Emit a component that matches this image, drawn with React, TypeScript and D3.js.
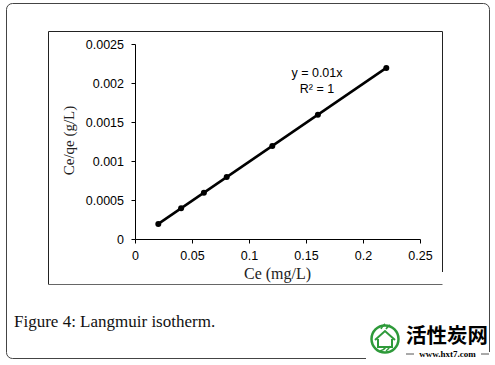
import React from "react";
import * as d3 from "d3";

// data
const ce = [0.02, 0.04, 0.06, 0.08, 0.12, 0.16, 0.22];
const ceQe = [0.0002, 0.0004, 0.0006, 0.0008, 0.0012, 0.0016, 0.0022];
const xTicks = [0, 0.05, 0.1, 0.15, 0.2, 0.25];
const yTicks = [0, 0.0005, 0.001, 0.0015, 0.002, 0.0025];
const slope = 0.01;

const App = () => {
  const x = d3.scaleLinear().domain([0, 0.25]).range([135.5, 420.5]);
  const y = d3.scaleLinear().domain([0, 0.0025]).range([239.5, 44.5]);

  const pts = ce.map((c, i) => ({ c, v: ceQe[i] }));
  const lineX = d3.extent(ce) as [number, number];
  const trend = d3
    .line<number>()
    .x((d) => x(d))
    .y((d) => y(d * slope))(lineX);

  const arial = "'Liberation Sans', Arial, sans-serif";
  const times = "'Liberation Serif', 'Times New Roman', serif";

  return (
    <div style={{ position: "absolute", left: 0, top: 0 }}>
      <svg width={495} height={365} style={{ display: "block", background: "#fff" }}>
        {/* outer frame */}
        <rect x={6.5} y={3.5} width={483} height={355} rx={6} fill="#fff" stroke="#444" strokeWidth={1} />
        {/* chart frame */}
        <path d="M48.5,284.5 L48.5,31.5 L442.5,31.5 L442.5,272" fill="none" stroke="#222" strokeWidth={1} />
        <line x1={48.5} x2={442.5} y1={284.5} y2={284.5} stroke="#666" strokeWidth={1} />

        {/* axes */}
        <line x1={x(0)} x2={x(0)} y1={y(0.0025)} y2={y(0)} stroke="#000" />
        <line x1={x(0)} x2={x(0.25)} y1={y(0)} y2={y(0)} stroke="#000" />
        {yTicks.map((t) => (
          <g key={"y" + t}>
            <line x1={x(0) - 4} x2={x(0)} y1={y(t)} y2={y(t)} stroke="#000" />
            <text x={124} y={y(t) + 4.5} textAnchor="end" fontFamily={arial} fontSize={12.5} fill="#000">
              {String(t)}
            </text>
          </g>
        ))}
        {xTicks.map((t) => (
          <g key={"x" + t}>
            <line x1={x(t)} x2={x(t)} y1={y(0)} y2={y(0) + 4} stroke="#000" />
            <text x={x(t)} y={260} textAnchor="middle" fontFamily={arial} fontSize={12.5} fill="#000">
              {String(t)}
            </text>
          </g>
        ))}

        {/* titles */}
        <text x={277.5} y={279} textAnchor="middle" fontFamily={times} fontSize={16} fill="#222">
          Ce (mg/L)
        </text>
        <text
          transform="translate(73.5,140.5) rotate(-90)"
          textAnchor="middle"
          fontFamily={times}
          fontSize={15}
          fill="#222"
        >
          Ce/qe (g/L)
        </text>

        {/* trendline and points */}
        <path d={trend ?? ""} fill="none" stroke="#000" strokeWidth={2.5} />
        {pts.map((p) => (
          <circle key={p.c} cx={x(p.c)} cy={y(p.v)} r={3} fill="#000" />
        ))}

        {/* equation */}
        <text x={317} y={77} textAnchor="middle" fontFamily={arial} fontSize={12.5} fill="#000">
          y = 0.01x
        </text>
        <text x={317} y={92.5} textAnchor="middle" fontFamily={arial} fontSize={12.5} fill="#000">
          R² = 1
        </text>

        {/* caption */}
        <text x={14} y={326.5} fontFamily={times} fontSize={17} fill="#111">
          Figure 4: Langmuir isotherm.
        </text>

        {/* watermark */}
        <g>
          <rect x={366} y={318} width={129} height={46} fill="#fff" />
          <circle cx={385} cy={339} r={13.5} fill="none" stroke="#2e9a3a" strokeWidth={2.5} />
          <path d="M375,340 L385,331 L395,340 M378,339 L378,347 L392,347 L392,339" fill="none" stroke="#2e9a3a" strokeWidth={2} />
          <path d="M381,329 q2,-4 4,-5 M386,329 q2,-3 4,-4" fill="none" stroke="#2e9a3a" strokeWidth={1.5} />
          <path d="M380,351 q4,-1 6,-4 M386,351 q3,-2 4,-5" fill="none" stroke="#2e9a3a" strokeWidth={1.5} />
          <text x={406} y={343} fontFamily="'Noto Sans CJK SC', sans-serif" fontWeight="bold" fontSize={20.5} fill="#000">
            活性炭网
          </text>
          <line x1={406} x2={414} y1={354} y2={354} stroke="#555" />
          <line x1={481} x2={489} y1={354} y2={354} stroke="#555" />
          <text x={447.5} y={357} textAnchor="middle" fontFamily={times} fontWeight="bold" fontSize={9} fill="#000">
            www.hxt7.com
          </text>
          <line x1={489.5} x2={489.5} y1={318} y2={352} stroke="#444" />
        </g>
      </svg>
    </div>
  );
};

export default App;
